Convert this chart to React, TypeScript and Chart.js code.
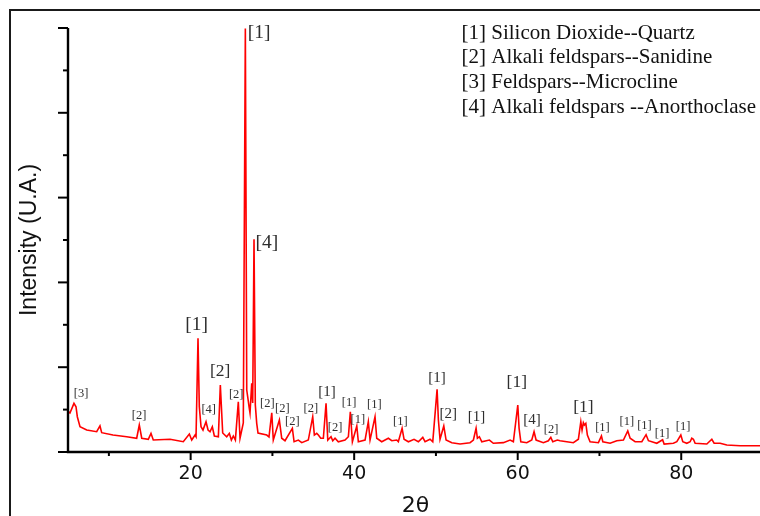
import { useEffect, useRef } from "react";
import { Chart, registerables } from "chart.js";

Chart.register(...registerables);

// 2θ (degrees) and intensity (a.u.)
const twoTheta = [
  5.04, 5.24, 5.73, 5.98, 6.14, 6.47, 7.29, 8.51, 8.91, 9.12, 10.5, 12.18, 13.4, 13.72, 14.02, 14.82, 15.15,
  15.43, 17.48, 19.1, 19.84, 20.13, 20.54, 20.66,
  20.9, 21.06, 21.27, 21.51, 21.88, 22.13, 22.37, 22.65, 22.9, 23.39, 23.63, 23.92, 24.41, 24.73, 24.98, 25.22,
  25.47, 25.83, 26.04, 26.44, 26.69, 26.86, 27.06, 27.14, 27.26, 27.47, 27.59, 27.75, 27.91, 28.08, 28.24, 29.31,
  29.58, 29.92, 30.11, 30.85, 31.14, 31.54, 32.44, 32.65, 33.17, 33.59, 34.39, 34.93, 35.13, 35.42, 35.62, 35.91,
  36.23, 36.56, 36.77, 37.17, 37.38, 37.66, 38.06, 38.88, 39.29, 39.53, 39.78, 40.32, 40.51, 41.33, 41.73, 41.94,
  42.55, 42.76, 43.37, 44.18, 44.6, 45.21, 45.4, 45.86, 46.1, 46.63, 47.32, 47.85, 48.39, 48.67, 49.28, 49.61,
  50.14, 50.3, 50.5, 50.96, 51.24, 51.94, 52.95, 54.17, 54.58, 54.91, 55.07, 55.31, 55.61, 56.54, 57.02, 58.25,
  59.07, 59.47, 60.01, 60.17, 60.38, 61.11, 61.72, 62.0, 62.25, 63.14, 63.75, 64.05, 64.29, 64.85, 65.18, 66.0,
  66.81, 67.42, 67.72, 67.87, 68.03, 68.16, 68.33, 68.52, 68.85, 69.87, 70.24, 70.41, 71.3, 72.12, 72.93, 73.46,
  73.75, 74.36, 75.18, 75.7, 75.99, 77.01, 77.72, 77.91, 79.04, 79.46, 79.95, 80.19, 80.68, 81.09, 81.29, 81.49,
  81.7, 83.13, 83.74, 84.02, 84.76, 85.57, 87.2, 89.65, 90.0,
];
const intensity = [
  475, 460, 574, 534, 416, 298, 259, 239, 307, 228, 200, 180, 162, 318, 162, 150, 220,
  141, 150, 121, 212, 141, 200, 180,
  1340, 534, 298, 259, 357, 259, 239, 298, 189, 180, 790, 224, 180, 220, 141, 189,
  141, 593, 162, 342, 4995, 731, 593, 534, 460, 810, 578, 2508, 554, 338, 224, 200,
  177, 463, 141, 377, 162, 133, 279, 121, 141, 110, 141, 416, 200, 220, 200, 162,
  162, 574, 141, 180, 133, 162, 121, 141, 180, 475, 121, 307, 121, 141, 357, 141,
  416, 162, 121, 162, 133, 141, 121, 279, 150, 121, 150, 121, 173, 121, 150, 121,
  739, 377, 150, 307, 141, 110, 94, 110, 141, 279, 162, 180, 121, 141, 103, 110,
  141, 121, 554, 279, 121, 110, 141, 239, 141, 110, 133, 173, 121, 141, 133, 121,
  110, 150, 357, 259, 345, 318, 338, 200, 121, 110, 189, 121, 103, 133, 141, 248,
  162, 121, 121, 204, 133, 103, 145, 94, 103, 121, 200, 121, 103, 121, 162, 150,
  103, 94, 150, 103, 103, 83, 74, 74, 74,
];

const xMajorTicks = [20, 40, 60, 80];
const xMinorTicks = [10, 30, 50, 70, 90];
const yMajorTicks = [0, 1000, 2000, 3000, 4000, 5000];
const yMinorTicks = [500, 1500, 2500, 3500, 4500];

// phase markers: text, 2θ, intensity where they sit, size class (0 large .. 3 small)
const peakLabelText = [
  "[1]", "[4]", "[1]", "[2]", "[3]", "[2]", "[4]", "[2]", "[2]", "[2]", "[2]", "[2]", "[1]", "[2]", "[1]",
  "[1]", "[1]", "[1]", "[1]", "[2]", "[1]", "[1]", "[4]", "[2]", "[1]", "[1]", "[1]", "[1]", "[1]", "[1]",
];
const peakLabelTheta = [
  28.36, 29.31, 20.74, 23.62, 6.59, 13.69, 22.21, 25.57, 29.38, 31.21, 32.44, 34.69, 36.68, 37.66, 39.37,
  40.44, 42.47, 45.65, 50.14, 51.52, 54.95, 59.89, 61.76, 64.08, 68.03, 70.36, 73.34, 75.5, 77.66, 80.23,
];
const peakLabelIntensity = [
  4937, 2461, 1497, 947, 692, 430, 495, 681, 566, 511, 357, 507, 704, 286, 581,
  386, 554, 357, 869, 444, 409, 817, 377, 268, 527, 286, 357, 310, 212, 298,
];
const peakLabelClass = [
  0, 0, 0, 1, 3, 3, 3, 3, 3, 3, 3, 3, 2, 3, 3,
  3, 3, 3, 2, 2, 2, 1, 2, 3, 1, 3, 3, 3, 3, 3,
];

const legendLines = [
  "[1] Silicon Dioxide--Quartz",
  "[2] Alkali feldspars--Sanidine",
  "[3] Feldspars--Microcline",
  "[4] Alkali feldspars --Anorthoclase",
];

const labelFontPx = [19.5, 17.5, 15, 12.5];

const decorPlugin = {
  id: "decor",
  afterDraw(chart: any) {
    const { ctx, chartArea: a } = chart;
    const x = chart.scales.x;
    const y = chart.scales.y;
    const W = chart.width;
    const H = chart.height;
    const seg = (x1: number, y1: number, x2: number, y2: number) => {
      ctx.beginPath();
      ctx.moveTo(x1, y1);
      ctx.lineTo(x2, y2);
      ctx.stroke();
    };
    ctx.save();
    // outer frame
    ctx.strokeStyle = "#1a1a1a";
    ctx.lineWidth = 2;
    ctx.beginPath();
    ctx.moveTo(10, H + 5);
    ctx.lineTo(10, 10);
    ctx.lineTo(W + 5, 10);
    ctx.stroke();

    // axes
    ctx.strokeStyle = "#000";
    ctx.lineWidth = 2.4;
    ctx.beginPath();
    ctx.moveTo(a.left, y.getPixelForValue(5000));
    ctx.lineTo(a.left, a.bottom);
    ctx.lineTo(W + 5, a.bottom);
    ctx.stroke();

    ctx.lineWidth = 2;
    yMajorTicks.forEach((v) => {
      const py = y.getPixelForValue(v);
      seg(a.left - 10, py, a.left, py);
    });
    yMinorTicks.forEach((v) => {
      const py = y.getPixelForValue(v);
      seg(a.left - 5, py, a.left, py);
    });
    xMajorTicks.forEach((v) => {
      const px = x.getPixelForValue(v);
      seg(px, a.bottom, px, a.bottom + 8);
    });
    xMinorTicks.forEach((v) => {
      const px = x.getPixelForValue(v);
      seg(px, a.bottom, px, a.bottom + 4);
    });

    // tick labels
    ctx.fillStyle = "#111";
    ctx.textAlign = "center";
    ctx.textBaseline = "middle";
    ctx.font = '19px "DejaVu Sans"';
    xMajorTicks.forEach((v) => {
      ctx.fillText(String(v), x.getPixelForValue(v), a.bottom + 22);
    });

    // axis titles
    ctx.font = '22px "DejaVu Sans"';
    ctx.fillText("2θ", (a.left + a.right) / 2, 506);
    ctx.save();
    ctx.translate(30, (a.top + a.bottom) / 2);
    ctx.rotate(-Math.PI / 2);
    ctx.font = '23px "Liberation Sans"';
    ctx.fillText("Intensity (U.A.)", 0, 0);
    ctx.restore();

    // peak markers
    ctx.fillStyle = "#2e2e2e";
    peakLabelText.forEach((t, i) => {
      ctx.font = `${labelFontPx[peakLabelClass[i]]}px "Liberation Serif"`;
      ctx.fillText(t, x.getPixelForValue(peakLabelTheta[i]), y.getPixelForValue(peakLabelIntensity[i]));
    });

    // legend
    ctx.fillStyle = "#111";
    ctx.textAlign = "left";
    ctx.font = '21px "Liberation Serif"';
    legendLines.forEach((t, i) => {
      ctx.fillText(t, 461.5, 33 + i * 24.7);
    });
    ctx.restore();
  },
};

export default function App() {
  const ref = useRef<HTMLCanvasElement | null>(null);
  useEffect(() => {
    if (!ref.current) return;
    const chart = new Chart(ref.current, {
      type: "line",
      data: {
        datasets: [
          {
            data: twoTheta.map((t, i) => ({ x: t, y: intensity[i] })),
            borderColor: "#ff0000",
            borderWidth: 1.6,
            pointRadius: 0,
            tension: 0,
            fill: false,
          },
        ],
      },
      options: {
        animation: false,
        responsive: false,
        devicePixelRatio: 1,
        layout: { padding: { left: 68, top: 28, right: 37, bottom: 108 } },
        plugins: { legend: { display: false }, tooltip: { enabled: false } },
        scales: {
          x: { type: "linear", min: 5, max: 90, display: false },
          y: { min: 0, max: 5000, display: false },
        },
      },
      plugins: [decorPlugin],
    });
    return () => chart.destroy();
  }, []);
  return (
    <div
      style={{
        position: "fixed",
        left: 0,
        top: 0,
        width: 760,
        height: 516,
        overflow: "hidden",
        background: "#fff",
      }}
    >
      <canvas ref={ref} width={800} height={560} style={{ display: "block", width: 800, height: 560 }} />
    </div>
  );
}
